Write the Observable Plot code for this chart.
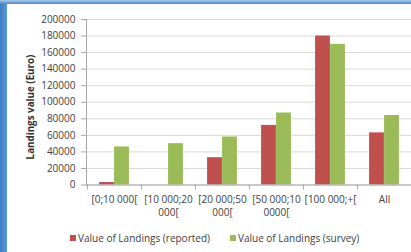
<!DOCTYPE html>
<html><head><meta charset="utf-8">
<script src="https://cdn.jsdelivr.net/npm/d3@7"></script>
<script src="https://cdn.jsdelivr.net/npm/@observablehq/plot@0.6"></script>
<style>
body{margin:0;background:#fff;width:411px;height:252px;overflow:hidden;position:relative;font-family:"Open Sans",sans-serif;}
#frameL{position:absolute;left:0;top:0;width:7px;height:252px;background:linear-gradient(to right,#3b7cc2,#5a9ad6);}
#frameT{position:absolute;left:0;top:0;width:411px;height:4px;background:linear-gradient(to bottom,#a9cbea,#4a86c8);}
#chart{position:absolute;left:0;top:0;}
#legend{position:absolute;top:231px;left:70px;font-size:10px;color:#404040;display:flex;align-items:center;white-space:nowrap;line-height:14px;}
#ytitle{position:absolute;left:31px;top:107px;transform:translate(-50%,-50%) rotate(-90deg);font-size:9.8px;font-weight:bold;color:#333;white-space:nowrap;line-height:12px;}
.sw{display:inline-block;width:6px;height:6px;margin-right:2px;}
</style></head><body>
<div id="chart"></div>
<div id="legend"></div>
<div id="ytitle"></div>
<div id="frameL"></div><div id="frameT"></div>
<script>
const categories = ["[0;10 000[", "[10 000;20\n000[", "[20 000;50\n000[", "[50 000;10\n0000[", "[100 000;+[", "All"];
const reported = [3000, null, 33000, 72000, 180000, 63000];
const survey = [46000, 50000, 58000, 87000, 170000, 84000];
const seriesNames = ["Value of Landings (reported)", "Value of Landings (survey)"];
const seriesColors = ["#c0504d", "#9bbb59"];
const yTicks = [0, 20000, 40000, 60000, 80000, 100000, 120000, 140000, 160000, 180000, 200000];
const yTitle = "Landings value (Euro)";

const redData = categories.map((c, i) => ({cat: c, value: reported[i]})).filter(d => d.value != null);
const greenData = categories.map((c, i) => ({cat: c, value: survey[i]})).filter(d => d.value != null);

const W = 411, ML = 86;
const step = (W - ML) / categories.length;
const bw = 15;
const axisColor = "#a6a6a6";

const chart = Plot.plot({
  width: W, height: 220,
  marginLeft: ML, marginRight: 0, marginTop: 19, marginBottom: 35.5,
  style: {fontFamily: "Open Sans", fontSize: "10px", color: "#404040", background: "transparent", overflow: "visible"},
  x: {domain: categories, padding: 0},
  y: {domain: [0, 200000]},
  marks: [
    Plot.gridY(yTicks, {stroke: "#d9d9d9", strokeOpacity: 1}),
    Plot.barY(redData, {x: "cat", y: "value", fill: seriesColors[0], insetLeft: step / 2 - bw, insetRight: step / 2}),
    Plot.barY(greenData, {x: "cat", y: "value", fill: seriesColors[1], insetLeft: step / 2, insetRight: step / 2 - bw}),
    Plot.ruleY([0], {stroke: axisColor}),
    Plot.frame({anchor: "left", stroke: axisColor}),
    Plot.axisY({ticks: yTicks, tickSize: 5, tickPadding: 6, tickFormat: d => String(d), label: null, stroke: axisColor}),
    Plot.axisX({tickSize: 5, text: null, label: null, dx: -step / 2, stroke: axisColor}),
    Plot.axisX({tickSize: 0, tickPadding: 9, label: null, lineHeight: 1.3, fill: "#404040"})
  ]
});
document.getElementById("chart").appendChild(chart);
document.getElementById("ytitle").textContent = yTitle;

const legend = document.getElementById("legend");
seriesNames.forEach((name, i) => {
  const item = document.createElement("span");
  item.style.display = "inline-flex";
  item.style.alignItems = "center";
  item.style.marginRight = i === 0 ? "20px" : "0";
  const sw = document.createElement("span");
  sw.className = "sw";
  sw.style.background = seriesColors[i];
  item.appendChild(sw);
  item.appendChild(document.createTextNode(name));
  legend.appendChild(item);
});
</script>
</body></html>
